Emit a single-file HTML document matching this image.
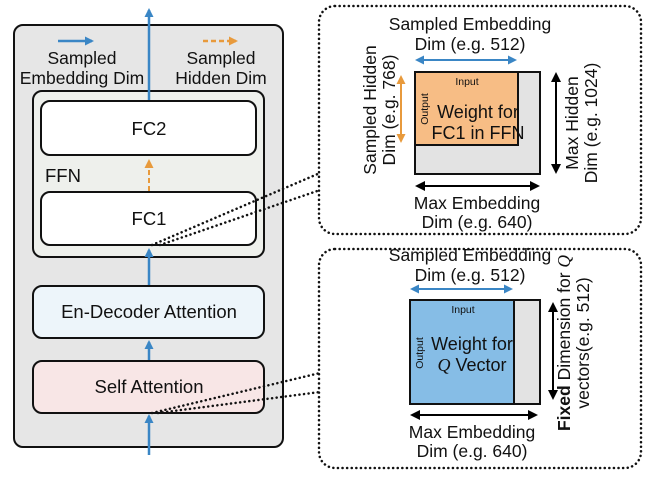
<!DOCTYPE html>
<html><head><meta charset="utf-8"><style>
html,body{margin:0;padding:0;background:#fff;}
svg{display:block;font-family:"Liberation Sans",Arial,sans-serif;}
</style></head><body>
<svg width="656" height="479" viewBox="0 0 656 479" xmlns="http://www.w3.org/2000/svg">
<defs>
<marker id="ab" markerWidth="9" markerHeight="9" refX="7" refY="4.5" orient="auto-start-reverse" markerUnits="userSpaceOnUse"><path d="M0,0 L9,4.5 L0,9 Z" fill="#3a86c5"/></marker>
<marker id="ao" markerWidth="9" markerHeight="9" refX="7" refY="4.5" orient="auto-start-reverse" markerUnits="userSpaceOnUse"><path d="M0,0 L9,4.5 L0,9 Z" fill="#e89a3c"/></marker>
<marker id="ak" markerWidth="10" markerHeight="10" refX="8" refY="5" orient="auto-start-reverse" markerUnits="userSpaceOnUse"><path d="M0,0 L10,5 L0,10 Z" fill="#000"/></marker>
</defs>
<rect x="14" y="25" width="269" height="422" rx="9" fill="#e6e6e6" stroke="#111" stroke-width="2"/>
<line x1="58" y1="41" x2="92" y2="41" stroke="#3a86c5" stroke-width="2.5" marker-end="url(#ab)"/>
<line x1="203" y1="41" x2="236" y2="41" stroke="#e89a3c" stroke-width="2.5" stroke-dasharray="5,3" marker-end="url(#ao)"/>
<g font-size="17.5" fill="#111" text-anchor="middle">
<text x="82" y="64">Sampled</text><text x="82" y="84">Embedding Dim</text>
<text x="221" y="64">Sampled</text><text x="221" y="84">Hidden Dim</text>
</g>
<rect x="33" y="91" width="231" height="166" rx="9" fill="#eef0ec" stroke="#111" stroke-width="2"/>
<rect x="41" y="101" width="215" height="54" rx="9" fill="#fff" stroke="#111" stroke-width="2"/>
<rect x="41" y="192" width="215" height="53" rx="9" fill="#fff" stroke="#111" stroke-width="2"/>
<rect x="33" y="286" width="231" height="52" rx="9" fill="#edf5fa" stroke="#111" stroke-width="2"/>
<rect x="33" y="361" width="231" height="52" rx="9" fill="#f8e6e6" stroke="#111" stroke-width="2"/>
<g font-size="18.5" fill="#111" text-anchor="middle">
<text x="149" y="135">FC2</text>
<text x="149" y="225">FC1</text>
<text x="149" y="318">En-Decoder Attention</text>
<text x="149" y="393">Self Attention</text>
</g>
<text x="45" y="182" font-size="18.5" fill="#111">FFN</text>
<line x1="149" y1="100" x2="149" y2="10" stroke="#3a86c5" stroke-width="2.5" marker-end="url(#ab)"/>
<line x1="149" y1="191" x2="149" y2="161" stroke="#e89a3c" stroke-width="2" stroke-dasharray="5,3" marker-end="url(#ao)"/>
<line x1="149" y1="285" x2="149" y2="250" stroke="#3a86c5" stroke-width="2.5" marker-end="url(#ab)"/>
<line x1="149" y1="360" x2="149" y2="342" stroke="#3a86c5" stroke-width="2.5" marker-end="url(#ab)"/>
<line x1="149" y1="455" x2="149" y2="416" stroke="#3a86c5" stroke-width="2.5" marker-end="url(#ab)"/>
<g stroke="#111" stroke-width="2.5" stroke-dasharray="0.1,4.5" stroke-linecap="round" fill="none">
<line x1="152" y1="245" x2="320" y2="173"/>
<line x1="160" y1="245" x2="320" y2="190"/>
<line x1="152" y1="413" x2="320" y2="373"/>
<line x1="158" y1="413" x2="320" y2="392"/>
<rect x="319" y="6" width="322" height="228" rx="16"/>
<rect x="319" y="249" width="322" height="219" rx="16"/>
</g>
<g font-size="17.5" fill="#111" text-anchor="middle">
<text x="470" y="30">Sampled Embedding</text>
<text x="470" y="50">Dim (e.g. 512)</text>
<text x="477" y="209">Max Embedding</text>
<text x="477" y="228">Dim (e.g. 640)</text>
</g>
<line x1="417" y1="60" x2="515" y2="60" stroke="#3a86c5" stroke-width="2" marker-start="url(#ab)" marker-end="url(#ab)"/>
<rect x="415" y="72" width="125" height="102" fill="#e3e3e3" stroke="#111" stroke-width="2"/>
<rect x="415" y="72" width="103" height="73" fill="#f7bd85" stroke="#111" stroke-width="2"/>
<text x="467" y="85" font-size="10.5" text-anchor="middle" fill="#111">Input</text>
<text transform="translate(428,109) rotate(-90)" font-size="10.5" text-anchor="middle" fill="#111">Output</text>
<text x="478" y="118" font-size="18" text-anchor="middle" fill="#111">Weight for</text>
<text x="478" y="139" font-size="18" text-anchor="middle" fill="#111">FC1 in FFN</text>
<line x1="401" y1="77" x2="401" y2="141" stroke="#e89a3c" stroke-width="2" marker-start="url(#ao)" marker-end="url(#ao)"/>
<g font-size="17.5" fill="#111" text-anchor="middle">
<text transform="translate(376,110) rotate(-90)">Sampled Hidden</text>
<text transform="translate(395,110) rotate(-90)">Dim (e.g. 768)</text>
<text transform="translate(578,123) rotate(-90)">Max Hidden</text>
<text transform="translate(597,123) rotate(-90)">Dim (e.g. 1024)</text>
</g>
<line x1="556" y1="74" x2="556" y2="172" stroke="#000" stroke-width="2" marker-start="url(#ak)" marker-end="url(#ak)"/>
<line x1="417" y1="186" x2="538" y2="186" stroke="#000" stroke-width="2" marker-start="url(#ak)" marker-end="url(#ak)"/>
<g font-size="17.5" fill="#111" text-anchor="middle">
<text x="470" y="261">Sampled Embedding</text>
<text x="470" y="281">Dim (e.g. 512)</text>
<text x="472" y="438">Max Embedding</text>
<text x="472" y="457">Dim (e.g. 640)</text>
</g>
<line x1="412" y1="289" x2="511" y2="289" stroke="#3a86c5" stroke-width="2" marker-start="url(#ab)" marker-end="url(#ab)"/>
<rect x="410" y="300" width="130" height="104" fill="#e3e3e3" stroke="#111" stroke-width="2"/>
<rect x="410" y="300" width="104" height="104" fill="#86bde6" stroke="#111" stroke-width="2"/>
<text x="463" y="313" font-size="10.5" text-anchor="middle" fill="#111">Input</text>
<text transform="translate(423,353) rotate(-90)" font-size="10.5" text-anchor="middle" fill="#111">Output</text>
<text x="472" y="350" font-size="18" text-anchor="middle" fill="#111">Weight for</text>
<text x="472" y="371" font-size="18" text-anchor="middle" fill="#111"><tspan font-family="Liberation Serif,serif" font-style="italic">Q</tspan> Vector</text>
<line x1="553" y1="304" x2="553" y2="398" stroke="#000" stroke-width="2" marker-start="url(#ak)" marker-end="url(#ak)"/>
<line x1="412" y1="415" x2="536" y2="415" stroke="#000" stroke-width="2" marker-start="url(#ak)" marker-end="url(#ak)"/>
<g font-size="17.5" fill="#111" text-anchor="middle">
<text transform="translate(570,343) rotate(-90)"><tspan font-weight="bold">Fixed</tspan> Dimension for <tspan font-family="Liberation Serif,serif" font-style="italic">Q</tspan></text>
<text transform="translate(589,343) rotate(-90)">vectors(e.g. 512)</text>
</g>
</svg>
</body></html>
